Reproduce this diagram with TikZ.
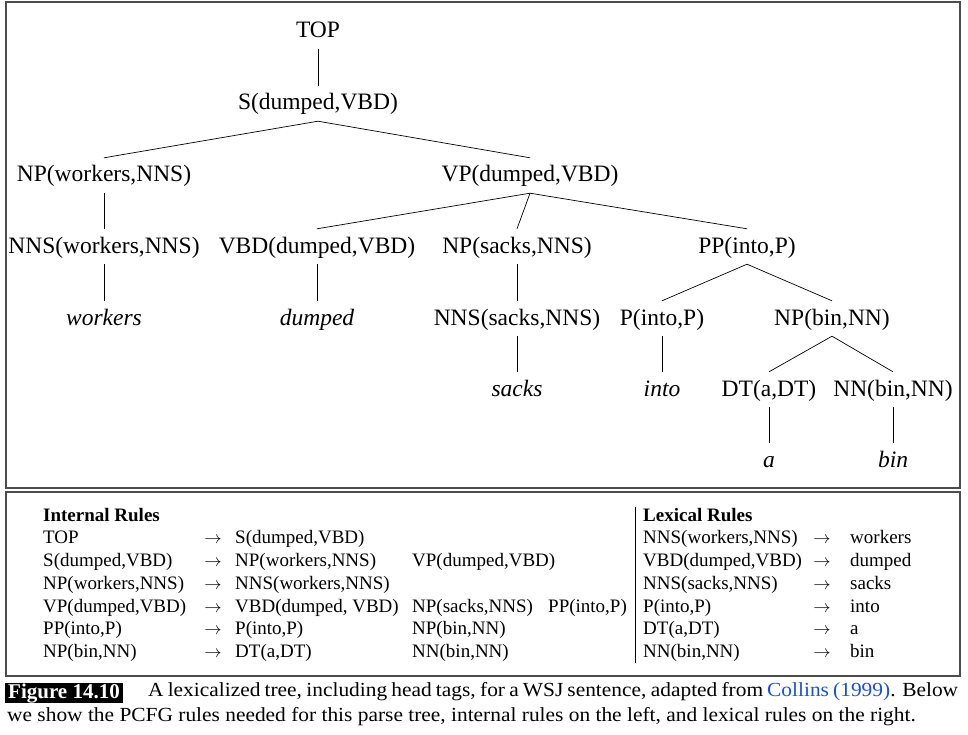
\documentclass[tikz,border=0pt]{standalone}
\usepackage{fontspec}
\setmainfont{Liberation Serif}
\newfontfamily\capfont[FakeStretch=1.07]{Liberation Serif}
\definecolor{linkblue}{RGB}{20,80,225}
\begin{document}
\begin{tikzpicture}[x=1pt,y=-1pt,
  tn/.style={font=\fontsize{23.5}{26}\selectfont, anchor=base, inner xsep=0pt, inner ysep=7pt, text height=17pt, text depth=4pt},
  wn/.style={tn, font=\fontsize{23.5}{26}\selectfont\itshape},
  edge/.style={line width=0.7pt},
  frame/.style={draw=black!70, line width=1.5pt},
  rt/.style={font=\fontsize{19}{21}\selectfont, anchor=base west, inner sep=0pt},
  rh/.style={rt, font=\fontsize{19}{21}\selectfont\bfseries},
  ar/.style={font=\fontsize{19}{21}\selectfont, anchor=base, inner sep=0pt},
  captext/.style={font=\capfont\fontsize{20}{22}\selectfont, anchor=base west, inner sep=0pt},
]
\useasboundingbox (0,0) rectangle (968,735);
% frames
\draw[frame] (6,2) rectangle (960,488);
\draw[frame] (6,492) rectangle (960,676);
% tree
\node[tn] (top) at (318,38) {TOP};
\node[tn] (s) at (318,110) {S(dumped,VBD)};
\node[tn] (npw) at (104,182) {NP(workers,NNS)};
\node[tn] (vp) at (530,182) {VP(dumped,VBD)};
\node[tn] (nnsw) at (104,253) {NNS(workers,NNS)};
\node[tn] (vbd) at (317,253) {VBD(dumped,VBD)};
\node[tn] (nps) at (517,253) {NP(sacks,NNS)};
\node[tn] (pp) at (747,253) {PP(into,P)};
\node[wn] (w1) at (104,325) {workers};
\node[wn] (w2) at (317,325) {dumped};
\node[tn] (nnss) at (517,325) {NNS(sacks,NNS)};
\node[tn] (pi) at (662,325) {P(into,P)};
\node[tn] (npb) at (832,325) {NP(bin,NN)};
\node[wn] (w3) at (517,396) {sacks};
\node[wn] (w4) at (662,396) {into};
\node[tn] (dt) at (769,396) {DT(a,DT)};
\node[tn] (nn) at (893,396) {NN(bin,NN)};
\node[wn] (w5) at (769,467) {a};
\node[wn] (w6) at (893,467) {bin};
\draw[edge] (top.south) -- (s.north);
\draw[edge] (s.south) -- (npw.north);
\draw[edge] (s.south) -- (vp.north);
\draw[edge] (npw.south) -- (nnsw.north);
\draw[edge] (vp.south) -- (vbd.north);
\draw[edge] (vp.south) -- (nps.north);
\draw[edge] (vp.south) -- (pp.north);
\draw[edge] (nnsw.south) -- (w1.north);
\draw[edge] (vbd.south) -- (w2.north);
\draw[edge] (nps.south) -- (nnss.north);
\draw[edge] (pp.south) -- (pi.north);
\draw[edge] (pp.south) -- (npb.north);
\draw[edge] (nnss.south) -- (w3.north);
\draw[edge] (pi.south) -- (w4.north);
\draw[edge] (npb.south) -- (dt.north);
\draw[edge] (npb.south) -- (nn.north);
\draw[edge] (dt.south) -- (w5.north);
\draw[edge] (nn.south) -- (w6.north);
% internal rules
\node[rh] (ih) at (43,521) {Internal Rules};
\node[rt] (i1l) at (43,543) {TOP};
\node[ar] (i1a) at (213,543) {$\rightarrow$};
\node[rt] (i1r) at (235,543) {S(dumped,VBD)};
\node[rt] (i2l) at (43,566) {S(dumped,VBD)};
\node[ar] (i2a) at (213,566) {$\rightarrow$};
\node[rt] (i2r) at (235,566) {NP(workers,NNS)};
\node[rt] (i2s) at (412,566) {VP(dumped,VBD)};
\node[rt] (i3l) at (43,589) {NP(workers,NNS)};
\node[ar] (i3a) at (213,589) {$\rightarrow$};
\node[rt] (i3r) at (235,589) {NNS(workers,NNS)};
\node[rt] (i4l) at (43,612) {VP(dumped,VBD)};
\node[ar] (i4a) at (213,612) {$\rightarrow$};
\node[rt] (i4r) at (235,612) {VBD(dumped, VBD)};
\node[rt] (i4s) at (412,612) {NP(sacks,NNS)};
\node[rt] (i4t) at (548,612) {PP(into,P)};
\node[rt] (i5l) at (43,634) {PP(into,P)};
\node[ar] (i5a) at (213,634) {$\rightarrow$};
\node[rt] (i5r) at (235,634) {P(into,P)};
\node[rt] (i5s) at (412,634) {NP(bin,NN)};
\node[rt] (i6l) at (43,657) {NP(bin,NN)};
\node[ar] (i6a) at (213,657) {$\rightarrow$};
\node[rt] (i6r) at (235,657) {DT(a,DT)};
\node[rt] (i6s) at (412,657) {NN(bin,NN)};
% divider
\coordinate (d1) at (635,507);
\coordinate (d2) at (635,663);
\draw[line width=0.8pt] (d1) -- (d2);
% lexical rules
\node[rh] (lh) at (643,521) {Lexical Rules};
\node[rt] (l1l) at (643,543) {NNS(workers,NNS)};
\node[ar] (l1a) at (822,543) {$\rightarrow$};
\node[rt] (l1r) at (850,543) {workers};
\node[rt] (l2l) at (643,566) {VBD(dumped,VBD)};
\node[ar] (l2a) at (822,566) {$\rightarrow$};
\node[rt] (l2r) at (850,566) {dumped};
\node[rt] (l3l) at (643,589) {NNS(sacks,NNS)};
\node[ar] (l3a) at (822,589) {$\rightarrow$};
\node[rt] (l3r) at (850,589) {sacks};
\node[rt] (l4l) at (643,612) {P(into,P)};
\node[ar] (l4a) at (822,612) {$\rightarrow$};
\node[rt] (l4r) at (850,612) {into};
\node[rt] (l5l) at (643,634) {DT(a,DT)};
\node[ar] (l5a) at (822,634) {$\rightarrow$};
\node[rt] (l5r) at (850,634) {a};
\node[rt] (l6l) at (643,657) {NN(bin,NN)};
\node[ar] (l6a) at (822,657) {$\rightarrow$};
\node[rt] (l6r) at (850,657) {bin};
% caption
\node[fill=black, text=white, font=\fontsize{21}{23}\selectfont\bfseries, inner xsep=3pt, inner ysep=0pt, text height=14pt, text depth=4pt, minimum height=20pt, anchor=north west] (fig) at (5,683) {Figure 14.10};
\node[captext] (cap1) at (148,696) {\makebox[810pt][s]{A lexicalized tree, including head tags, for a WSJ sentence, adapted from \textcolor{linkblue}{Collins (1999)}. Below}};
\node[captext] (cap2) at (7,721) {we show the PCFG rules needed for this parse tree, internal rules on the left, and lexical rules on the right.};
\end{tikzpicture}
\end{document}
